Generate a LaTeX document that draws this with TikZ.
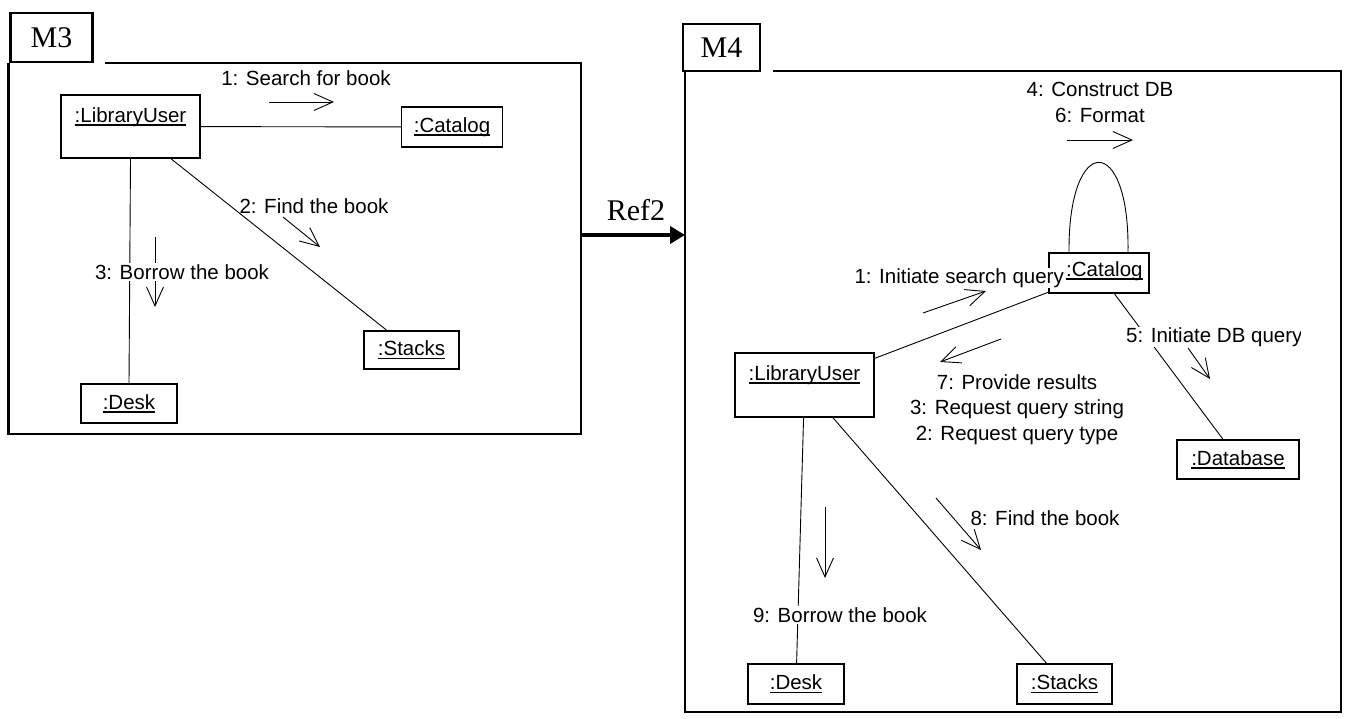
\documentclass[tikz,border=0pt]{standalone}
\usepackage{fontspec}
\setmainfont{Liberation Sans}
\newfontfamily\timesf{Liberation Serif}
\usetikzlibrary{arrows.meta}
\newcommand{\lblfont}{\fontsize{20.5pt}{25.5pt}\selectfont}
\newcommand{\ulx}[1]{\leavevmode\setbox0=\hbox{#1}\rlap{\raisebox{-3.5pt}{\rule{\wd0}{1.6pt}}}\box0}
\tikzset{
  obj/.style={draw, line width=1.2pt, fill=white, inner sep=0pt, font=\lblfont},
  tallobj/.style={obj, minimum width=139pt, minimum height=63pt},
  toplbl/.style={font=\lblfont, inner sep=0pt, anchor=north, yshift=-13pt},
  conn/.style={line width=0.9pt},
  msg/.style={line width=0.9pt, -{Straight Barb[length=19pt,width=17pt]}},
  txt/.style={font=\lblfont, inner sep=1pt, align=center},
  wtxt/.style={txt, fill=white},
  framel/.style={line width=2.2pt},
  tabbox/.style={draw, line width=2.2pt, inner sep=0pt, font=\timesf\fontsize{30pt}{30pt}\selectfont},
  refarrow/.style={line width=4pt, -{Triangle[length=15pt,width=17pt]}}
}
\begin{document}
\begin{tikzpicture}[x=1pt,y=-1pt]
\useasboundingbox (0,0) rectangle (1347,719);

% ---------------- M3 ----------------
\node[tabbox, minimum width=82pt, minimum height=49pt] (m3tab) at (51.5,37.5) {M3};
\coordinate (m3tl) at (8.5,63);
\coordinate (m3r) at (581,235);
\draw[framel] (105,63) -- (581,63) -- (581,434) -- (8.5,434) -- (m3tl);

\node[tallobj] (lu3) at (130.5,126.5) {};
\node[obj, minimum width=101pt, minimum height=40pt] (cat3) at (452,127) {\ulx{:Catalog}};
\node[obj, minimum width=95pt, minimum height=38pt] (stk3) at (411.5,350) {\ulx{:Stacks}};
\node[obj, minimum width=96pt, minimum height=39pt] (desk3) at (129,403.5) {\ulx{:Desk}};

\draw[conn] (lu3) -- (cat3);
\draw[conn] (lu3) -- (stk3);
\draw[conn] (lu3.south) -- (desk3.north);

\node[txt] (l31) at (306,78) {1: Search for book};
\draw[msg] (269,102) -- (334,102);
\node[txt] (l32) at (314,206) {2: Find the book};
\draw[msg] (283,217) -- (320,247);
\draw[msg] (155,237) -- (155,307);
\node[wtxt] (l33) at (182,272) {3: Borrow the book};

\node[toplbl] (lu3t) at (lu3.north) {\ulx{:LibraryUser}};

% ---------------- Ref2 ----------------
\node[font=\timesf\fontsize{30pt}{30pt}\selectfont, inner sep=0pt] (ref) at (636,210) {Ref2};
\coordinate (m4l) at (685,235);
\draw[refarrow] (m3r) -- (m4l);

% ---------------- M4 ----------------
\node[tabbox, minimum width=77pt, minimum height=47pt] (m4tab) at (721.5,47.5) {M4};
\coordinate (m4tl) at (685,71);
\draw[framel] (773,71) -- (1341,71) -- (1341,712) -- (685,712) -- (m4tl);

\node[obj, minimum width=100pt, minimum height=40pt] (cat4) at (1099,273) {};
\node[tallobj, minimum height=64pt] (lu4) at (804.5,385) {};
\node[obj, minimum width=122pt, minimum height=39pt] (db4) at (1238,459.5) {\ulx{:Database}};
\node[obj, minimum width=96pt, minimum height=40pt] (desk4) at (796,684) {\ulx{:Desk}};
\node[obj, minimum width=95pt, minimum height=40pt] (stk4) at (1064.5,684) {\ulx{:Stacks}};

\draw[conn] (lu4) -- (cat4);
\draw[conn] (cat4) -- (db4);
\draw[conn] (lu4) -- (desk4);
\draw[conn] (lu4) -- (stk4);
\draw[conn] ([xshift=-30pt]cat4.north) .. controls ([xshift=-31pt,yshift=120pt]cat4.north) and ([xshift=31pt,yshift=120pt]cat4.north) .. ([xshift=29pt]cat4.north);

\node[txt] (l46) at (1100,102.5) {4: Construct DB\\6: Format};
\draw[msg] (1067,140) -- (1133,140);

\node[wtxt, anchor=east, inner sep=0pt] (l41) at (1064,278) {1: Initiate search query};
\node[font=\lblfont, inner sep=0pt, anchor=west] (cat4t) at (1066,271) {\ulx{:Catalog}};
\draw[msg] (923,313) -- (986,291);
\draw[msg] (1001,339) -- (940,362);
\node[txt] (l47) at (1017,409.5) {7: Provide results\\3: Request query string\\2: Request query type};

\begin{scope}
  \clip (1110,318) rectangle (1300,358);
  \node[wtxt, anchor=west, inner sep=0pt] (l45) at (1126,337) {5: Initiate DB query};
\end{scope}
\draw[msg] (1188,348) -- (1210,379);

\node[txt] (l48) at (1045,518) {8: Find the book};
\draw[msg] (936,498) -- (981,550);

\draw[msg] (825,507) -- (825,578);
\node[wtxt] (l49) at (840,615) {9: Borrow the book};

\node[toplbl] (lu4t) at (lu4.north) {\ulx{:LibraryUser}};
\end{tikzpicture}
\end{document}
